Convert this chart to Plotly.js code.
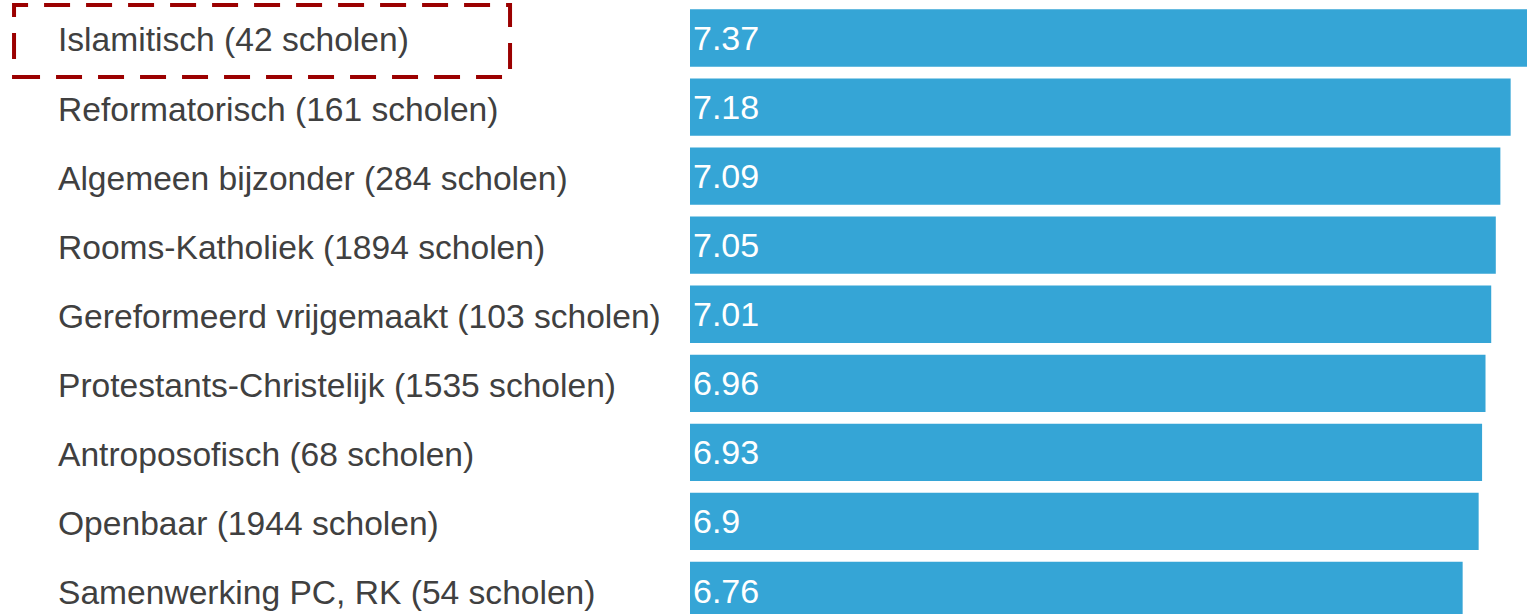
<!DOCTYPE html>
<html>
<head>
<meta charset="utf-8">
<script src="https://cdn.plot.ly/plotly-3.0.1.min.js"></script>
<style>html,body{margin:0;padding:0;background:#fff;}#chart{width:1527px;height:614px;}</style>
</head>
<body>
<div id="chart"></div>
<script>
var categories = [
  "Islamitisch (42 scholen)",
  "Reformatorisch (161 scholen)",
  "Algemeen bijzonder (284 scholen)",
  "Rooms-Katholiek (1894 scholen)",
  "Gereformeerd vrijgemaakt (103 scholen)",
  "Protestants-Christelijk (1535 scholen)",
  "Antroposofisch (68 scholen)",
  "Openbaar (1944 scholen)",
  "Samenwerking PC, RK (54 scholen)"
];
var values = [7.37, 7.18, 7.09, 7.05, 7.01, 6.96, 6.93, 6.9, 6.76];
var valueLabels = ["7.37", "7.18", "7.09", "7.05", "7.01", "6.96", "6.93", "6.9", "6.76"];

var trace = {
  type: 'bar',
  orientation: 'h',
  x: values,
  y: categories,
  text: valueLabels,
  textposition: 'inside',
  insidetextanchor: 'start',
  textfont: {family: 'Liberation Sans, Arial, sans-serif', size: 34, color: '#ffffff'},
  marker: {color: '#35a5d6'},
  cliponaxis: true,
  hoverinfo: 'none'
};

var annotations = categories.map(function (c) {
  return {
    xref: 'paper', yref: 'y', x: -0.758, y: c, yshift: -2,
    text: c, showarrow: false, xanchor: 'left', yanchor: 'middle',
    font: {family: 'Liberation Sans, Arial, sans-serif', size: 33.6, color: '#404040'}
  };
});

var layout = {
  width: 1527, height: 614,
  margin: {l: 690, r: 0, t: 0, b: 0, pad: 0},
  paper_bgcolor: '#ffffff', plot_bgcolor: '#ffffff',
  showlegend: false,
  bargap: 0.17,
  xaxis: {range: [0, 7.323], showgrid: false, zeroline: false, showticklabels: false, showline: false, ticks: ''},
  yaxis: {type: 'category', range: [8.34, -0.55], showgrid: false, zeroline: false, showticklabels: false, showline: false, ticks: ''},
  annotations: annotations,
  shapes: [{
    type: 'rect', xref: 'paper', yref: 'paper',
    x0: -0.8076, x1: -0.215, y0: 0.8746, y1: 0.9919,
    line: {color: '#9b0000', width: 4, dash: '26px,16px'},
    fillcolor: 'rgba(0,0,0,0)'
  }]
};

Plotly.newPlot('chart', [trace], layout, {displayModeBar: false, staticPlot: true});
</script>
</body>
</html>
